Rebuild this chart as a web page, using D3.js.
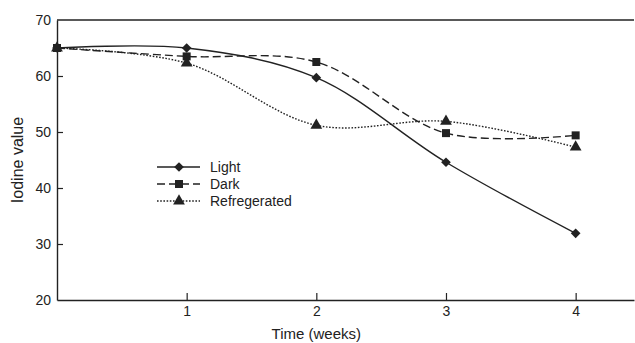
<!DOCTYPE html>
<html>
<head>
<meta charset="utf-8">
<script src="https://cdn.jsdelivr.net/npm/d3@7"></script>
<style>
  body { margin: 0; background: #fff; }
  text { font-family: "Liberation Sans", Arial, sans-serif; fill: #222; }
</style>
</head>
<body>
<div id="chart"></div>
<script>
const WEEKS = [0, 1, 2, 3, 4]
const LIGHT = [65, 65, 59.7, 44.6, 31.9]
const DARK = [65, 63.5, 62.5, 49.8, 49.4]
const REFR = [65, 62.3, 51.2, 51.9, 47.3]
const SERIES_NAMES = ["Light", "Dark", "Refregerated"]
const Y_TICKS = [20, 30, 40, 50, 60, 70]
const X_TICKS = [1, 2, 3, 4]

const W = 635, H = 343
const M = {LEFT: 57, RIGHT: 1, TOP: 20, BOTTOM: 43}
const INK = "#222"

const svg = d3.select("#chart").append("svg")
    .attr("width", W)
    .attr("height", H)

const x = d3.scaleLinear().domain([0, 4.45]).range([M.LEFT, W - M.RIGHT])
const y = d3.scaleLinear().domain([20, 70]).range([H - M.BOTTOM, M.TOP])

// frame: top line, left axis, bottom axis
svg.append("line")
    .attr("x1", x(0)).attr("x2", W - M.RIGHT)
    .attr("y1", y(70)).attr("y2", y(70))
    .attr("stroke", INK).attr("stroke-width", 1.4)

const yAxis = svg.append("g")
    .attr("transform", `translate(${x(0)},0)`)
    .call(d3.axisLeft(y).tickValues(Y_TICKS).tickSize(-6).tickPadding(6)
        .tickFormat(d3.format("d")).tickSizeOuter(0))
yAxis.select(".domain").attr("stroke", INK).attr("stroke-width", 1.4)
yAxis.selectAll(".tick line").attr("stroke", INK).attr("stroke-width", 1.2)
    .filter(d => d === 20 || d === 70).remove()
yAxis.selectAll(".tick text").attr("font-size", 14).style("fill", INK)

const xAxis = svg.append("g")
    .attr("transform", `translate(0,${y(20)})`)
    .call(d3.axisBottom(x).tickValues(X_TICKS).tickSize(-7).tickPadding(6)
        .tickFormat(d3.format("d")).tickSizeOuter(0))
xAxis.select(".domain").attr("stroke", INK).attr("stroke-width", 1.4)
xAxis.selectAll(".tick line").attr("stroke", INK).attr("stroke-width", 1.2)
xAxis.selectAll(".tick text").attr("font-size", 14).style("fill", INK)

svg.append("text")
    .attr("x", x(2)).attr("y", 339)
    .attr("text-anchor", "middle")
    .attr("font-size", 15)
    .text("Time (weeks)")

svg.append("text")
    .attr("transform", `translate(23,${y(45)}) rotate(-90)`)
    .attr("text-anchor", "middle")
    .attr("font-size", 16)
    .text("Iodine value")

const styles = [
  {data: LIGHT, dash: null, sym: d3.symbolDiamond2, size: 60},
  {data: DARK, dash: "8,4", sym: d3.symbolSquare, size: 64},
  {data: REFR, dash: "1.6,1.6", sym: d3.symbolTriangle, size: 60}
]

const line = d3.line()
    .x((d, i) => x(WEEKS[i]))
    .y(d => y(d))
    .curve(d3.curveCatmullRom.alpha(0.5))

styles.forEach(s => {
  svg.append("path")
      .attr("d", line(s.data))
      .attr("fill", "none")
      .attr("stroke", INK)
      .attr("stroke-width", 1.4)
      .attr("stroke-dasharray", s.dash)
  svg.selectAll(null)
      .data(s.data)
      .enter()
      .append("path")
      .attr("d", d3.symbol(s.sym, s.size))
      .attr("transform", (d, i) => `translate(${x(WEEKS[i])},${y(d)})`)
      .attr("fill", INK)
})

// legend
const legend = svg.append("g")
const LEG_Y = [167, 184, 201]
styles.forEach((s, i) => {
  legend.append("line")
      .attr("x1", 157).attr("x2", 200)
      .attr("y1", LEG_Y[i]).attr("y2", LEG_Y[i])
      .attr("stroke", INK).attr("stroke-width", 1.4)
      .attr("stroke-dasharray", s.dash)
  legend.append("path")
      .attr("d", d3.symbol(s.sym, s.size))
      .attr("transform", `translate(179,${LEG_Y[i]})`)
      .attr("fill", INK)
  legend.append("text")
      .attr("x", 210).attr("y", LEG_Y[i] + 5)
      .attr("font-size", 14)
      .text(SERIES_NAMES[i])
})
</script>
</body>
</html>
